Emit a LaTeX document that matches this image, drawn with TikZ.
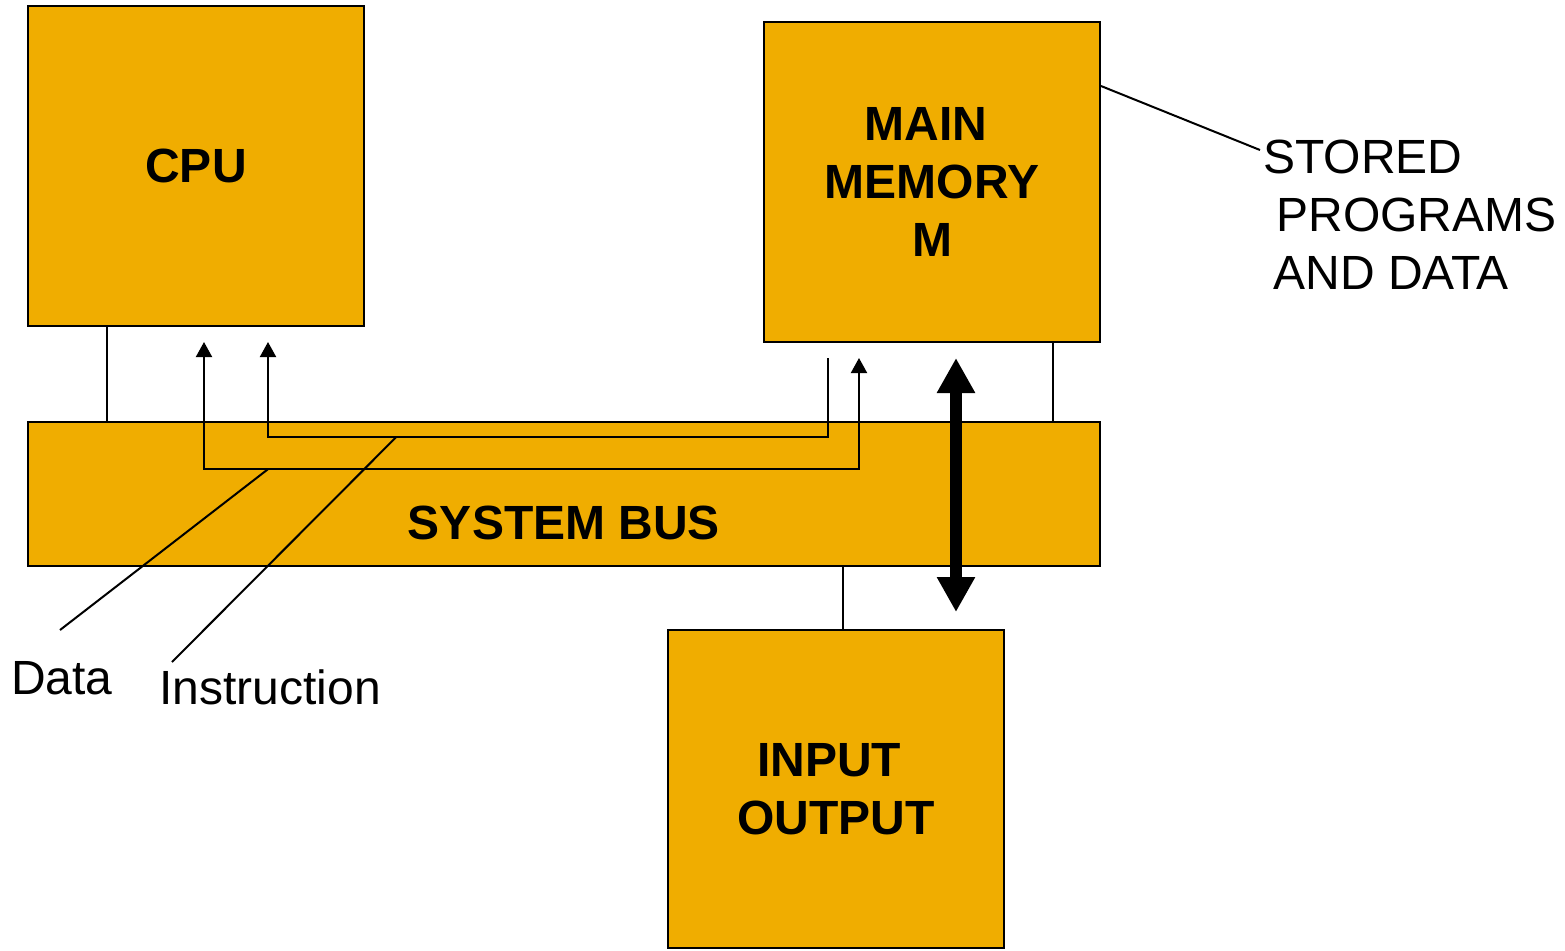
\documentclass[tikz,border=0pt]{standalone}
\usepackage{fontspec}
\setmainfont{Liberation Sans}
\usetikzlibrary{arrows.meta}
\definecolor{unitfill}{HTML}{F0AD00}
\tikzset{
  unit/.style={draw, line width=1pt, fill=unitfill, minimum width=168pt, minimum height=160pt,
    inner sep=0pt, align=center, font=\bfseries\fontsize{24}{29}\selectfont},
  lbl/.style={inner sep=0pt, font=\fontsize{24}{29}\selectfont},
  wire/.style={line width=1pt},
  sig/.style={line width=1pt, >={Triangle[width=8pt,length=7.5pt]}},
  fat/.style={line width=6pt, {Triangle[width=18pt,length=17.5pt]}-{Triangle[width=18pt,length=17.5pt]}},
}
\begin{document}
\begin{tikzpicture}[x=0.5pt,y=-0.5pt]
\useasboundingbox (0,0) rectangle (1565,950);

\node[unit] (cpu) at (196,166) {CPU};
\node[unit] (mem) at (932,182) {MAIN\hspace*{6pt}\\MEMORY\\M};
\node[unit, minimum width=536pt, minimum height=72pt] (bus) at (564,494) {};
\node[unit, minimum height=159pt] (io) at (836,789) {INPUT\hspace*{7pt}\\OUTPUT};
\node[font=\bfseries\fontsize{24}{29}\selectfont, inner sep=0pt] (buslbl) at (564,523) {SYSTEM BUS};

% links to the bus
\draw[wire] ([xshift=40pt]cpu.south west) -- ([xshift=40pt]cpu.south west |- bus.north);
\draw[wire] ([xshift=-24pt]mem.south east) -- ([xshift=-24pt]mem.south east |- bus.north);
\draw[wire] ([xshift=88pt]io.north west) -- ([xshift=88pt]io.north west |- bus.south);

% data and instruction paths
\coordinate (d1) at (204,342);
\coordinate (d2) at (204,469);
\coordinate (d3) at (859,469);
\coordinate (d4) at (859,358);
\coordinate (i1) at (268,342);
\coordinate (i2) at (268,437);
\coordinate (i3) at (828,437);
\coordinate (i4) at (828,358);

\draw[sig,<->] (d1)--(d2)--(d3)--(d4);
\draw[sig,<-] (i1)--(i2)--(i3)--(i4);

\path (d2)--(d3) coordinate[pos=0.098](dl);
\path (i2)--(i3) coordinate[pos=0.229](il);
\coordinate (dfoot) at (60,630);
\coordinate (ifoot) at (172,662);

\draw[wire] (dl)--(dfoot);
\draw[wire] (il)--(ifoot);

\node[lbl] (data) at (62,678) {Data};
\node[lbl] (instr) at (270,687) {Instruction};

% memory <-> i/o
\coordinate (t1) at (956,358);
\coordinate (t2) at (956,612);
\draw[fat] (t1)--(t2);

% stored programs note
\node[lbl, anchor=west, align=left] (stored) at (1263,215) {STORED\\\hspace*{6.5pt}PROGRAMS\\\hspace*{5pt}AND DATA};
\coordinate (sfoot) at (1260,150);
\draw[wire] ([yshift=-32.5pt]mem.north east)--(sfoot);
\end{tikzpicture}
\end{document}
